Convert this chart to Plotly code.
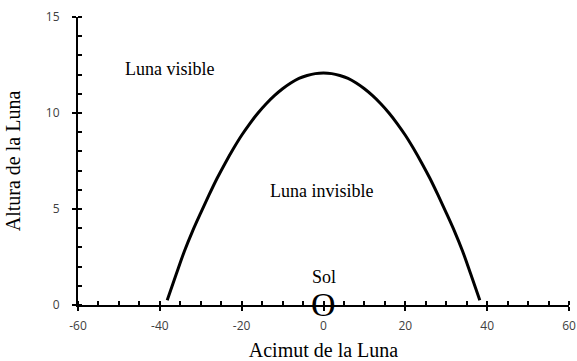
import plotly.graph_objects as go

# Moon altitude as a function of its azimuth (degrees)
acimut = [-38.2, -36, -34, -32, -30, -28, -26, -24, -22, -20, -18, -16, -14, -12,
          -10, -8, -6, -4, -2, 0, 2, 4, 6, 8, 10, 12, 14, 16, 18, 20, 22, 24, 26,
          28, 30, 32, 34, 36, 38.2]
altura = [0.25, 1.6, 2.8, 3.85, 4.8, 5.72, 6.6, 7.4, 8.15, 8.84, 9.45, 10.0, 10.48,
          10.9, 11.26, 11.56, 11.8, 11.95, 12.05, 12.08, 12.05, 11.95, 11.8, 11.56,
          11.26, 10.9, 10.48, 10.0, 9.45, 8.84, 8.15, 7.4, 6.6, 5.72, 4.8, 3.85,
          2.8, 1.6, 0.25]

x_ticks = [-60, -40, -20, 0, 20, 40, 60]
x_tick_text = ["-60", "-40", "-20", "0", "20", "40", "60"]
y_ticks = [0, 5, 10, 15]
y_tick_text = ["0", "5", "10", "15"]

# Text labels: (text, x, y, size)
etiquetas = [
    ("Luna visible", -37.6, 12.3, 18),
    ("Luna invisible", -0.5, 5.95, 18),
    ("Sol", 0, 1.45, 18),
]
sol_x, sol_y = 0, 0

serif = "Liberation Serif"
sans = "Open Sans"

fig = go.Figure()
fig.add_trace(go.Scatter(x=acimut, y=altura, mode="lines",
                         line=dict(color="black", width=3, shape="spline"),
                         hoverinfo="skip", showlegend=False))

for txt, x, y, s in etiquetas:
    fig.add_annotation(x=x, y=y, text=txt, showarrow=False,
                       font=dict(family=serif, size=s, color="black"))
fig.add_annotation(x=sol_x, y=sol_y, text="O", showarrow=False, yshift=1,
                   font=dict(family=serif, size=34, color="black"))

axis_common = dict(showgrid=False, zeroline=False, showline=True, automargin=False,
                   linecolor="black", linewidth=2, ticks="outside", ticklen=4,
                   tickwidth=1.5, tickcolor="black",
                   tickfont=dict(family=sans, size=12, color="#404040"))

fig.update_layout(
    width=577, height=361,
    margin=dict(l=78, r=8, t=17, b=56),
    paper_bgcolor="white", plot_bgcolor="white",
    xaxis=dict(range=[-60, 60], tickvals=x_ticks, ticktext=x_tick_text,
               ticklabelstandoff=5,
               minor=dict(dtick=5, ticks="inside", ticklen=4, tickwidth=1.5,
                          tickcolor="black"),
               title=dict(text="Acimut de la Luna", standoff=10,
                          font=dict(family=serif, size=20, color="black")),
               **axis_common),
    yaxis=dict(range=[0, 15], tickvals=y_ticks, ticktext=y_tick_text,
               minor=dict(dtick=1, ticks="inside", ticklen=4, tickwidth=1.5,
                          tickcolor="black"),
               ticklabelstandoff=10,
               title=dict(text="Altura de la Luna", standoff=20,
                          font=dict(family=serif, size=20, color="black")),
               **axis_common),
    # overlay axes supply the inner half of the major ticks
    xaxis2=dict(overlaying="x", range=[-60, 60], tickvals=x_ticks, ticks="inside",
                ticklen=4, tickwidth=1.5, tickcolor="black", showticklabels=False,
                showgrid=False, zeroline=False, showline=False, anchor="y"),
    yaxis2=dict(overlaying="y", range=[0, 15], tickvals=y_ticks, ticks="inside",
                ticklen=4, tickwidth=1.5, tickcolor="black", showticklabels=False,
                showgrid=False, zeroline=False, showline=False, anchor="x",
                side="left"),
)
# an invisible trace keeps the overlay axes drawn
fig.add_trace(go.Scatter(x=[None], y=[None], xaxis="x2", yaxis="y2",
                         showlegend=False, hoverinfo="skip"))

fig.write_html("out.html")
